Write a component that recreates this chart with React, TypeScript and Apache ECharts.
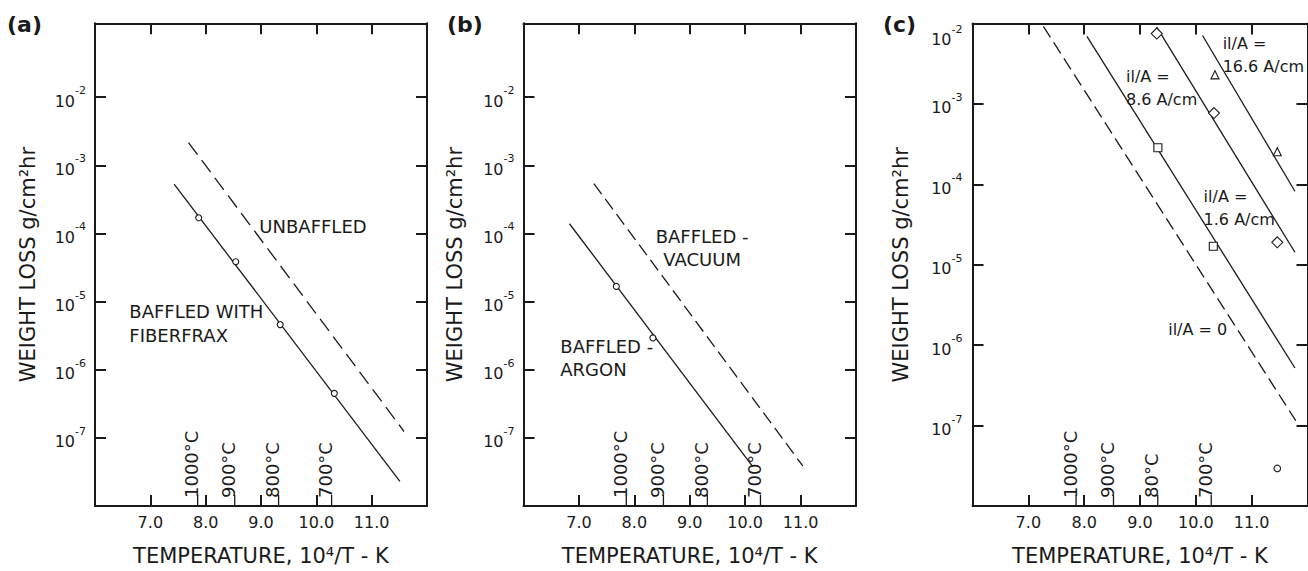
import React, { useEffect, useRef } from "react";
import * as echarts from "echarts";

// ---------- data ----------
const X_MIN = 6;
const X_MAX = 12;
const X_TICKS = [7, 8, 9, 10, 11];
const Y_MIN = 1e-8;
const Y_MAX_AB = 0.1216;
const Y_MAX_C = 1e-2;
const Y_TICKS = [1e-7, 1e-6, 1e-5, 1e-4, 1e-3, 1e-2];

const TEMP_X = [7.855, 8.525, 9.318, 10.276];
const TEMP_LABELS_AB = ["1000°C", "900°C", "800°C", "700°C"];
const TEMP_LABELS_C = ["1000°C", "900°C", "80°C", "700°C"];

// panel (a)
const aUnbaffledLine = [[7.69, 2.16e-3], [11.585, 1.24e-7]];
const aFiberfraxLine = [[7.43, 5.3e-4], [11.51, 2.3e-8]];
const aFiberfraxPoints = [[7.874, 1.7e-4], [8.544, 3.85e-5], [9.347, 4.6e-6], [10.325, 4.5e-7]];

// panel (b)
const bVacuumLine = [[7.27, 5.4e-4], [11.04, 3.87e-8]];
const bArgonLine = [[6.83, 1.39e-4], [10.14, 3.74e-8]];
const bArgonPoints = [[7.675, 1.67e-5], [8.335, 2.93e-6]];

// panel (c)
const cLine0 = [[7.27, 9.2e-3], [11.79, 1.15e-7]];
const cLine16 = [[8.05, 6.9e-3], [11.775, 5.2e-7]];
const cLine86 = [[9.3, 9.0e-3], [11.775, 1.43e-5]];
const cLine166 = [[10.12, 7.1e-3], [11.775, 8.2e-5]];
const cSquares = [[9.32, 2.85e-4], [10.313, 1.7e-5]];
const cDiamonds = [[9.3, 7.5e-3], [10.325, 7.7e-4], [11.459, 1.9e-5]];
const cTriangles = [[10.343, 2.3e-3], [11.459, 2.54e-4]];
const cCircles = [[11.459, 2.93e-8]];

// annotation texts
const A_TEXTS = ["UNBAFFLED", "BAFFLED WITH\nFIBERFRAX"];
const B_TEXTS = ["BAFFLED -\nVACUUM", "BAFFLED -\nARGON"];
const C_TEXTS = ["il/A =\n16.6 A/cm", "il/A =\n8.6 A/cm", "il/A =\n1.6 A/cm", "il/A = 0"];

// ---------- layout ----------
const A_ANCHORS = [[8.97, 1.256e-4], [6.62, 7.06e-6]];
const A_ALIGN = ["left", "left"];
const B_ANCHORS = [[9.223, 9.14e-5], [6.664, 2.17e-6]];
const B_ALIGN = ["center", "left"];
const C_ANCHORS = [[10.48, 5.64e-3], [8.749, 2.18e-3], [10.139, 7.11e-5], [9.505, 1.55e-6]];
const C_ALIGN = ["left", "left", "left", "left"];

const FONT = "DejaVu Sans";
const INK = "#1a1a1a";

const GRIDS = [
  { left: 95, top: 23.3, width: 332, height: 487 },
  { left: 523.5, top: 23.3, width: 332.5, height: 486 },
  { left: 972.5, top: 23.5, width: 335, height: 487.5 },
];

function supLabel(v: number) {
  const e = Math.round(Math.log10(v));
  return `{b|10}{s|${e}}`;
}

const RICH = {
  b: { fontSize: 16, fontFamily: FONT, color: INK, lineHeight: 24, verticalAlign: "bottom" },
  s: { fontSize: 11, fontFamily: FONT, color: INK, lineHeight: 12, verticalAlign: "top" },
};

function buildOption() {
  const xAxis: any[] = [];
  const yAxis: any[] = [];
  const yMaxes = [Y_MAX_AB, Y_MAX_AB, Y_MAX_C];
  const yNameGaps = [57, 58, 61];
  const yLabelMargins = [9, 9, 10];
  const lineSty = { color: INK, width: 2 };
  for (let i = 0; i < 3; i++) {
    xAxis.push({
      gridIndex: i,
      type: "value",
      min: X_MIN,
      max: X_MAX,
      position: "bottom",
      axisLine: { show: true, onZero: false, lineStyle: lineSty },
      axisTick: { show: true, inside: true, length: 11, customValues: X_TICKS, lineStyle: lineSty },
      axisLabel: {
        show: true,
        customValues: X_TICKS,
        margin: 8,
        formatter: (v: number) => v.toFixed(1),
        color: INK,
        fontFamily: FONT,
        fontSize: 16,
      },
      splitLine: { show: false },
      name: "TEMPERATURE, 10⁴/T - K",
      nameLocation: "middle",
      nameGap: 39,
      nameTextStyle: { color: INK, fontFamily: FONT, fontSize: 21 },
    });
    xAxis.push({
      gridIndex: i,
      type: "value",
      min: X_MIN,
      max: X_MAX,
      position: "top",
      axisLine: { show: true, onZero: false, lineStyle: lineSty },
      axisTick: { show: true, inside: true, length: 11, customValues: X_TICKS, lineStyle: lineSty },
      axisLabel: { show: false },
      splitLine: { show: false },
    });
    yAxis.push({
      gridIndex: i,
      type: "log",
      logBase: 10,
      min: Y_MIN,
      max: yMaxes[i],
      position: "left",
      axisLine: { show: true, onZero: false, lineStyle: lineSty },
      axisTick: { show: true, inside: true, length: 11, customValues: Y_TICKS, lineStyle: lineSty },
      minorTick: { show: false },
      axisLabel: {
        show: true,
        customValues: Y_TICKS,
        margin: yLabelMargins[i],
        formatter: supLabel,
        rich: RICH,
        verticalAlignMaxLabel: i === 2 ? "top" : undefined,
      },
      splitLine: { show: false },
      name: "WEIGHT LOSS g/cm²hr",
      nameLocation: "middle",
      nameGap: yNameGaps[i],
      nameRotate: 90,
      nameTextStyle: { color: INK, fontFamily: FONT, fontSize: 21 },
    });
    yAxis.push({
      gridIndex: i,
      type: "log",
      logBase: 10,
      min: Y_MIN,
      max: yMaxes[i],
      position: "right",
      axisLine: { show: true, onZero: false, lineStyle: lineSty },
      axisTick: { show: true, inside: true, length: 11, customValues: Y_TICKS, lineStyle: lineSty },
      minorTick: { show: false },
      axisLabel: { show: false },
      splitLine: { show: false },
    });
  }

  const line = (i: number, data: number[][], dashed: number[] | null) => ({
    type: "line",
    xAxisIndex: 2 * i,
    yAxisIndex: 2 * i,
    data,
    symbol: "none",
    showSymbol: false,
    silent: true,
    z: 2,
    lineStyle: { color: INK, width: 1.3, type: dashed ? dashed : "solid" },
  });
  const scatter = (i: number, data: number[][], symbol: string, size: number) => ({
    type: "scatter",
    xAxisIndex: 2 * i,
    yAxisIndex: 2 * i,
    data,
    symbol,
    symbolSize: size,
    silent: true,
    z: 3,
    itemStyle: { color: "#ffffff", borderColor: INK, borderWidth: 1.1, opacity: 1 },
  });
  const temps = (i: number, labels: string[]) => ({
    type: "custom",
    xAxisIndex: 2 * i,
    yAxisIndex: 2 * i,
    silent: true,
    z: 4,
    data: TEMP_X.map((x) => [x, Y_MIN]),
    renderItem: (params: any, api: any) => {
      const p = api.coord([api.value(0), Y_MIN]);
      return {
        type: "group",
        children: [
          {
            type: "line",
            shape: { x1: p[0], y1: p[1], x2: p[0], y2: p[1] - 11 },
            style: { stroke: INK, lineWidth: 1.3 },
          },
          {
            type: "text",
            x: p[0] - 6,
            y: p[1] - 8,
            rotation: Math.PI / 2,
            style: {
              text: labels[params.dataIndex],
              fill: INK,
              fontSize: 18,
              fontFamily: FONT,
              align: "left",
              verticalAlign: "middle",
            },
          },
        ],
      };
    },
  });
  const annots = (i: number, anchors: number[][], texts: string[], aligns: string[], fs: number, lh: number) => ({
    type: "custom",
    xAxisIndex: 2 * i,
    yAxisIndex: 2 * i,
    silent: true,
    z: 5,
    data: anchors,
    renderItem: (params: any, api: any) => {
      const p = api.coord([api.value(0), api.value(1)]);
      return {
        type: "text",
        x: p[0],
        y: p[1] - lh / 2,
        style: {
          text: texts[params.dataIndex],
          fill: INK,
          fontSize: fs,
          fontFamily: FONT,
          lineHeight: lh,
          align: aligns[params.dataIndex],
          verticalAlign: "top",
        },
      };
    },
  });

  const series: any[] = [
    line(0, aUnbaffledLine, [15, 7]),
    line(0, aFiberfraxLine, null),
    scatter(0, aFiberfraxPoints, "circle", 6),
    temps(0, TEMP_LABELS_AB),
    annots(0, A_ANCHORS, A_TEXTS, A_ALIGN, 18, 24),

    line(1, bVacuumLine, [13, 6]),
    line(1, bArgonLine, null),
    scatter(1, bArgonPoints, "circle", 6),
    temps(1, TEMP_LABELS_AB),
    annots(1, B_ANCHORS, B_TEXTS, B_ALIGN, 18, 23),

    line(2, cLine0, [13, 6]),
    line(2, cLine16, null),
    line(2, cLine86, null),
    line(2, cLine166, null),
    scatter(2, cSquares, "rect", 8),
    scatter(2, cDiamonds, "diamond", 11),
    scatter(2, cTriangles, "triangle", 8),
    scatter(2, cCircles, "circle", 6.5),
    temps(2, TEMP_LABELS_C),
    annots(2, C_ANCHORS, C_TEXTS, C_ALIGN, 16, 23),
  ];

  const panelLetters = [
    { text: "(a)", left: 7 },
    { text: "(b)", left: 447 },
    { text: "(c)", left: 883 },
  ];

  return {
    animation: false,
    backgroundColor: "#ffffff",
    textStyle: { fontFamily: FONT },
    grid: GRIDS.map((g) => ({ ...g, containLabel: false })),
    xAxis,
    yAxis,
    series,
    graphic: panelLetters.map((p) => ({
      type: "text",
      left: p.left,
      top: 13,
      style: {
        text: p.text,
        fill: INK,
        fontSize: 22,
        fontWeight: "bold",
        fontFamily: FONT,
      },
    })),
  };
}

export default function App() {
  const ref = useRef<HTMLDivElement>(null);
  useEffect(() => {
    if (!ref.current) return;
    const chart = echarts.init(ref.current, null, { renderer: "svg" });
    chart.setOption(buildOption() as any);
    return () => chart.dispose();
  }, []);
  return (
    <div
      ref={ref}
      style={{ position: "fixed", left: 0, top: 0, width: 1308, height: 571, background: "#fff" }}
    />
  );
}
